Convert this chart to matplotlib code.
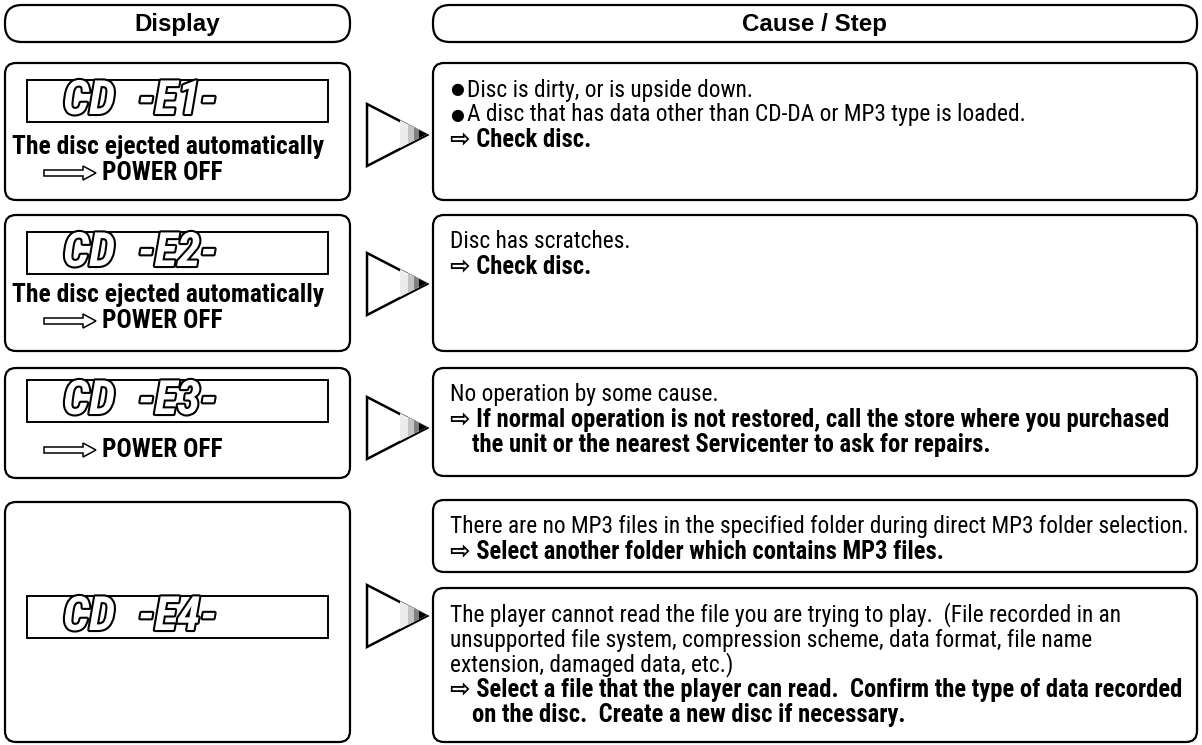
import matplotlib
matplotlib.use("Agg")
import matplotlib.pyplot as plt
from matplotlib import font_manager
from matplotlib.patches import FancyBboxPatch, Rectangle, Polygon
import matplotlib.patheffects as pe

W, H = 1202, 745

# ---- content ----
header_left = "Display"
header_right = "Cause / Step"

lcd_codes = [("CD", "-E1-"), ("CD", "-E2-"), ("CD", "-E3-"), ("CD", "-E4-")]
eject_note = "The disc ejected automatically"
power_note = "POWER OFF"
left_notes = [[eject_note, power_note],
              [eject_note, power_note],
              [power_note],
              []]

BULLET = "\u25cf"
# (text, bold, indented)
cause_lines = [
    [(BULLET + "Disc is dirty, or is upside down.", False, False),
     (BULLET + "A disc that has data other than CD-DA or MP3 type is loaded.", False, False),
     ("\u21e8 Check disc.", True, False)],
    [("Disc has scratches.", False, False),
     ("\u21e8 Check disc.", True, False)],
    [("No operation by some cause.", False, False),
     ("\u21e8 If normal operation is not restored, call the store where you purchased", True, False),
     ("the unit or the nearest Servicenter to ask for repairs.", True, True)],
    [("There are no MP3 files in the specified folder during direct MP3 folder selection.", False, False),
     ("\u21e8 Select another folder which contains MP3 files.", True, False)],
    [("The player cannot read the file you are trying to play.  (File recorded in an", False, False),
     ("unsupported file system, compression scheme, data format, file name", False, False),
     ("extension, damaged data, etc.)", False, False),
     ("\u21e8 Select a file that the player can read.  Confirm the type of data recorded", True, False),
     ("on the disc.  Create a new disc if necessary.", True, True)],
]

# ---- layout (pixels) ----
left_x0, left_x1 = 5, 350
right_x0, right_x1 = 433, 1197
left_rows = [(63, 200), (215, 351), (368, 478), (502, 742)]
right_rows = [(63, 200), (215, 351), (368, 476), (500, 572), (588, 742)]
lcd_tops = [80, 232, 380, 596]
lcd_h = 42
note_ys = [[147, 173], [295, 321], [450], []]
tri_cy = [135, 284, 428, 616]
line_gap = 25

avail = {f.name for f in font_manager.fontManager.ttflist}
narrow = next((f for f in ["Liberation Sans Narrow", "DejaVu Sans Condensed",
                           "Roboto Condensed", "Open Sans Condensed"] if f in avail),
              "Liberation Sans")
body_font = [narrow, "DejaVu Sans"]
head_font = ["Liberation Sans", "DejaVu Sans"]

fig = plt.figure(figsize=(W / 100, H / 100), dpi=100)
ax = fig.add_axes([0, 0, 1, 1])
ax.set_xlim(0, W)
ax.set_ylim(H, 0)
ax.axis("off")
renderer = fig.canvas.get_renderer()


def fit_size(s, target, **kw):
    t = ax.text(0, 0, s, fontsize=10, **kw)
    w = t.get_window_extent(renderer).width
    t.remove()
    return 10 * target / w


def rbox(x0, y0, x1, y1, r, lw=1.6):
    ax.add_patch(FancyBboxPatch((x0, y0), x1 - x0, y1 - y0,
                                boxstyle=f"round,pad=0,rounding_size={r}",
                                fc="white", ec="black", lw=lw))


# headers
rbox(left_x0, 5, left_x1, 42, 17)
rbox(right_x0, 5, right_x1, 42, 17)
hs = fit_size(header_left, 86, family=head_font, weight="bold")
ax.text((left_x0 + left_x1) / 2, 24, header_left, family=head_font, weight="bold",
        fontsize=hs, ha="center", va="center")
ax.text((right_x0 + right_x1) / 2, 24, header_right, family=head_font, weight="bold",
        fontsize=hs, ha="center", va="center")

# sizes
reg_size = fit_size(cause_lines[3][0][0], 734, family=body_font)
bold_size = fit_size(cause_lines[4][3][0], 734, family=body_font, weight="bold")
eject_size = fit_size(eject_note, 313, family=body_font, weight="bold")
power_size = fit_size(power_note, 120, family=body_font, weight="bold")
lcd_size = min(fit_size("-E1-", 92, family=body_font, weight="bold", style="italic"), 34)

outline = [pe.withStroke(linewidth=3, foreground="black")]

# left column
for i, (y0, y1) in enumerate(left_rows):
    rbox(left_x0, y0, left_x1, y1, 11)
    top = lcd_tops[i]
    ax.add_patch(Rectangle((27, top), 301, lcd_h, fc="white", ec="black", lw=1.4))
    cy = top + lcd_h / 2
    ax.text(63, cy, lcd_codes[i][0], family=body_font, weight="bold", style="italic",
            fontsize=lcd_size, color="white", ha="left", va="center", path_effects=outline)
    ax.text(138, cy, lcd_codes[i][1], family=body_font, weight="bold", style="italic",
            fontsize=lcd_size, color="white", ha="left", va="center", path_effects=outline)
    for note, ny in zip(left_notes[i], note_ys[i]):
        if note == power_note:
            arrow = [(44, ny - 3), (83, ny - 3), (83, ny - 7), (96, ny),
                     (83, ny + 7), (83, ny + 3), (44, ny + 3)]
            ax.add_patch(Polygon(arrow, closed=True, fc="white", ec="black", lw=1.1))
            ax.text(102, ny, note, family=body_font, weight="bold", fontsize=power_size,
                    ha="left", va="center")
        else:
            ax.text(12, ny, note, family=body_font, weight="bold", fontsize=eject_size,
                    ha="left", va="center")

# pointer triangles
def tri(x0, x1, cy, hh):
    return [(x0, cy - hh), (x0, cy + hh), (x1, cy)]


for cy in tri_cy:
    ax.add_patch(Polygon(tri(367, 427, cy, 31), closed=True, fc="white", ec="black",
                         lw=1.8, joinstyle="miter"))
    for xs, col in [(400, "#ececec"), (408, "#c4c4c4"), (414, "#808080"), (419, "black")]:
        ax.add_patch(Polygon(tri(xs, 427, cy - 1, 31 * (427 - xs) / 60), closed=True,
                             fc=col, ec="none"))

# right column
for (y0, y1), lines in zip(right_rows, cause_lines):
    rbox(right_x0, y0, right_x1, y1, 11)
    for k, (s, bold, indent) in enumerate(lines):
        x = 472 if indent else 450
        y = y0 + 27 + line_gap * k
        if s.startswith(BULLET):
            ax.text(x, y, BULLET, family=body_font, fontsize=reg_size * 0.68,
                    ha="left", va="center")
            s, x = s[1:], x + 17
        ax.text(x, y, s, family=body_font,
                weight="bold" if bold else "normal",
                fontsize=bold_size if bold else reg_size, ha="left", va="center")

fig.savefig("out.png", dpi=100)
